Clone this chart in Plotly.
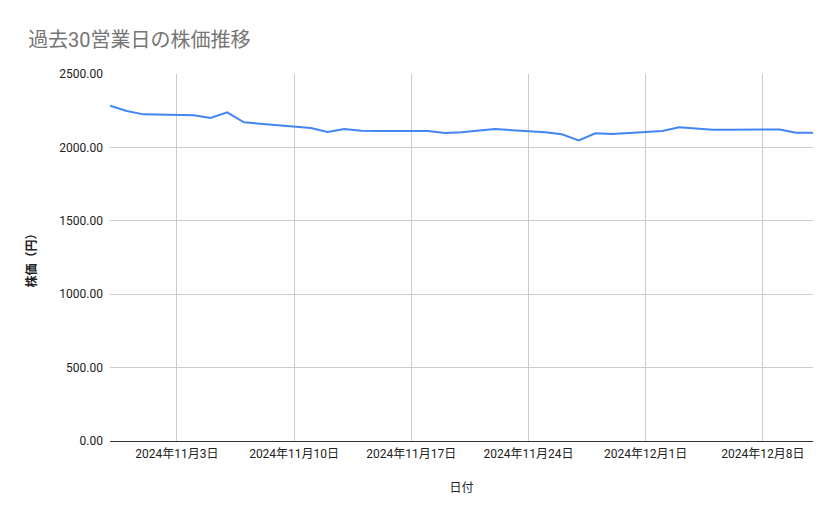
import plotly.graph_objects as go

# --- data ---
dates = [
    "2024-10-30", "2024-10-31", "2024-11-01",
    "2024-11-04", "2024-11-05", "2024-11-06", "2024-11-07", "2024-11-08",
    "2024-11-11", "2024-11-12", "2024-11-13", "2024-11-14", "2024-11-15",
    "2024-11-18", "2024-11-19", "2024-11-20", "2024-11-21", "2024-11-22",
    "2024-11-25", "2024-11-26", "2024-11-27", "2024-11-28", "2024-11-29",
    "2024-12-02", "2024-12-03", "2024-12-04", "2024-12-05", "2024-12-06",
    "2024-12-09", "2024-12-10", "2024-12-11",
]
prices = [
    2284, 2248, 2225,
    2219, 2200, 2239, 2171, 2161,
    2132, 2105, 2125, 2114, 2111,
    2111, 2098, 2103, 2112, 2125,
    2103, 2089, 2048, 2096, 2091,
    2112, 2137, 2130, 2121, 2121,
    2122, 2100, 2100,
]
y_ticks = [0, 500, 1000, 1500, 2000, 2500]

font_jp = "Roboto, 'Noto Sans CJK JP', sans-serif"

fig = go.Figure()

fig.add_trace(go.Scatter(
    x=dates,
    y=prices,
    mode="lines",
    line=dict(color="#4285F4", width=2),
    name="株価",
    showlegend=False,
))

# the page body adds an 8px offset, margins are shifted to compensate
fig.update_layout(
    width=839,
    height=519,
    paper_bgcolor="white",
    plot_bgcolor="white",
    margin=dict(l=102, r=34, t=66, b=86),
    font=dict(family=font_jp, size=12, color="#222222"),
    title=dict(
        text="過去30営業日の株価推移",
        font=dict(family=font_jp, size=20, color="#757575"),
        x=0.024, xanchor="left",
        y=0.938, yanchor="middle",
    ),
    xaxis=dict(
        type="date",
        range=["2024-10-30", "2024-12-11"],
        tick0="2024-11-03",
        dtick=7 * 24 * 3600 * 1000,
        tickformat="%Y年%-m月%-d日",
        showgrid=True,
        gridcolor="#cccccc",
        gridwidth=1,
        showline=False,
        zeroline=False,
        ticks="",
        ticklabelstandoff=4,
        tickfont=dict(size=12, color="#222222"),
        title=dict(text="日付", font=dict(size=12, color="#222222"), standoff=23),
    ),
    yaxis=dict(
        range=[0, 2500],
        tickvals=y_ticks,
        tickformat=".2f",
        showgrid=True,
        gridcolor="#cccccc",
        gridwidth=1,
        zeroline=True,
        zerolinecolor="#333333",
        zerolinewidth=1,
        showline=False,
        ticks="",
        ticklabelstandoff=6,
        tickfont=dict(size=12, color="#222222"),
        title=dict(text="<b>株価（円）</b>", font=dict(size=12, color="#222222"), standoff=20),
    ),
)

fig.write_html("out.html")
